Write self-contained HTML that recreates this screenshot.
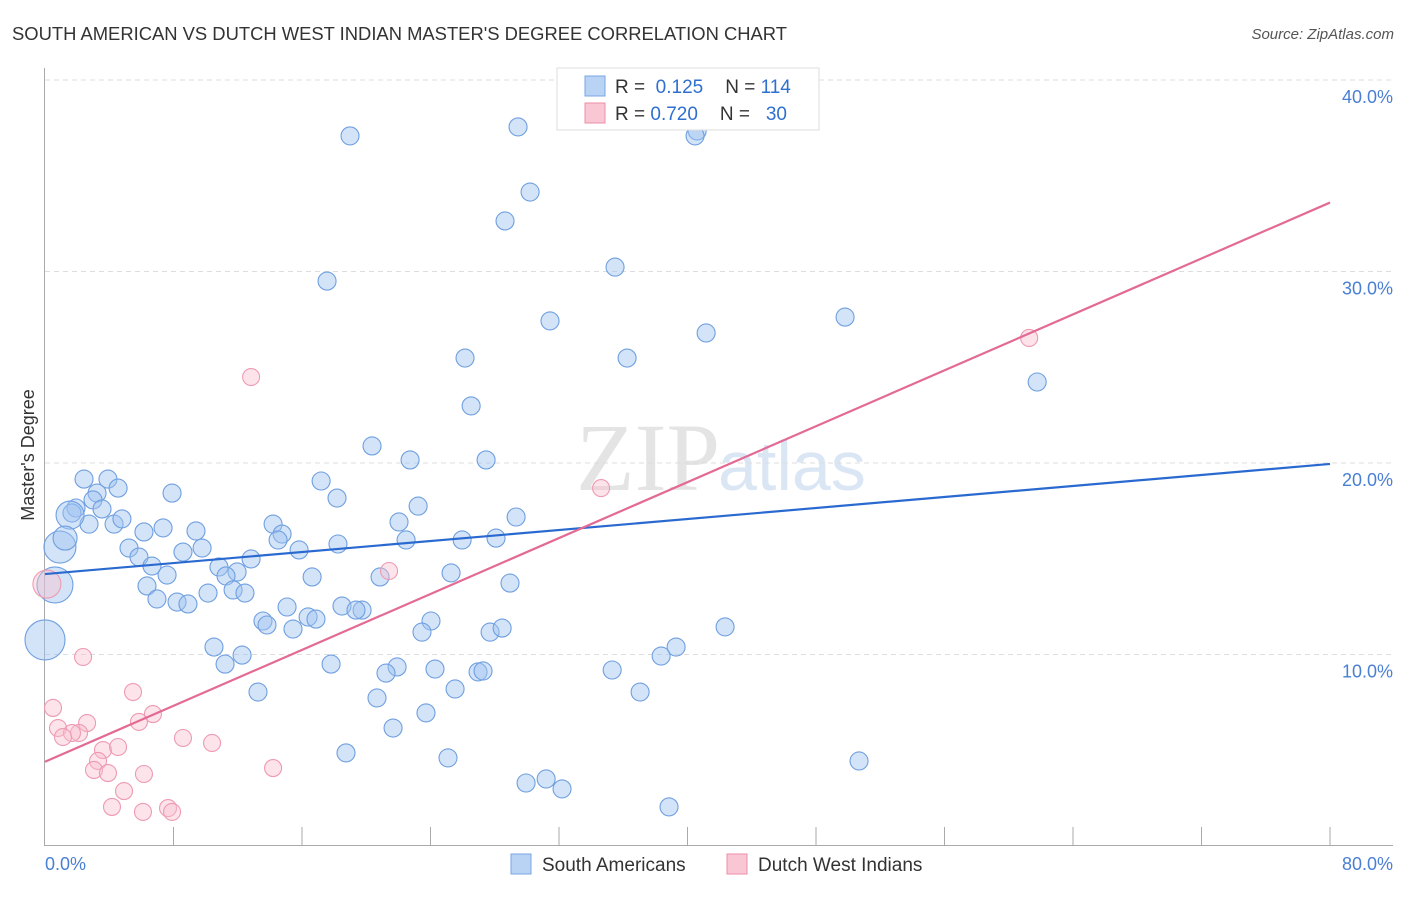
<!DOCTYPE html>
<html><head><meta charset="utf-8"><style>
body{margin:0;background:#fff;font-family:"Liberation Sans",sans-serif;}
</style></head><body>
<svg id="c" width="1406" height="892" xmlns="http://www.w3.org/2000/svg" style="font-family:'Liberation Sans',sans-serif">
<text x="12" y="40" font-size="18.4" fill="#333">SOUTH AMERICAN VS DUTCH WEST INDIAN MASTER'S DEGREE CORRELATION CHART</text>
<text x="1394" y="39" font-size="15" fill="#555" text-anchor="end" font-style="italic">Source: ZipAtlas.com</text>
<text x="720" y="490" font-size="96" fill="#e4e4e4" text-anchor="end" font-family="Liberation Serif">ZIP</text>
<text x="718" y="490" font-size="70" fill="#dbe6f5">atlas</text>
<g id="grid"></g><g id="pts"></g><g id="lines"></g>
<text transform="translate(34,455) rotate(-90)" font-size="18" fill="#333" text-anchor="middle">Master's Degree</text>
<text x="45" y="870" font-size="18" fill="#4a7fd4">0.0%</text>
<text x="1393" y="870" font-size="18" fill="#4a7fd4" text-anchor="end">80.0%</text>
<g>
<rect x="557" y="68" width="262" height="62" fill="#fff" stroke="#ddd"/>
<rect x="585" y="76" width="20" height="20" fill="#b9d3f5" stroke="#7aa6e4"/>
<rect x="585" y="103" width="20" height="20" fill="#f9c6d3" stroke="#ec8eaa"/>
<text x="615" y="93" font-size="19" fill="#333">R = <tspan fill="#2f6fd0">&#160;0.125</tspan><tspan dx="22" fill="#333">N = </tspan><tspan fill="#2f6fd0"> 114</tspan></text>
<text x="615" y="120" font-size="19" fill="#333">R = <tspan fill="#2f6fd0">0.720</tspan><tspan dx="22" fill="#333">N = </tspan><tspan fill="#2f6fd0">&#160; 30</tspan></text>
</g>
<g>
<rect x="511" y="854" width="20" height="20" fill="#b9d3f5" stroke="#7aa6e4"/>
<text x="542" y="871" font-size="19" fill="#333">South Americans</text>
<rect x="727" y="854" width="20" height="20" fill="#f9c6d3" stroke="#ec8eaa"/>
<text x="758" y="871" font-size="19" fill="#333">Dutch West Indians</text>
</g>
</svg>
<script>
const yTicks=[10,20,30,40];
const yTickLabels=["10.0%","20.0%","30.0%","40.0%"];
const blueX=[18.99,29.45,40.6,40.47,30.2,28.64,35.49,17.56,31.44,49.81,41.16,26.15,36.24,61.77,26.53,20.36,22.73,27.46,2.43,3.92,17.19,4.55,3.24,7.91,2.99,18.18,1.93,3.55,23.23,1.68,29.33,2.74,4.3,4.79,14.2,22.04,7.35,9.4,14.76,6.16,22.48,14.51,25.97,28.08,18.24,5.23,9.78,15.82,8.59,5.85,12.83,6.66,10.83,11.96,11.27,7.6,25.28,16.63,20.86,28.95,6.35,11.71,10.15,12.45,6.97,8.22,8.9,15.07,18.49,19.74,19.36,16.38,16.87,13.57,13.82,24.03,15.44,23.47,27.71,28.46,42.34,10.52,39.29,12.27,38.36,11.21,17.81,21.92,21.23,24.28,26.96,27.27,35.31,13.26,37.05,25.53,20.67,23.72,21.67,18.74,25.09,50.68,31.2,29.95,32.19,38.85,0.62,0,0.93,1.56,1.25];
const blueY=[37.08,37.55,37.34,37.08,34.15,32.64,30.23,29.5,27.42,27.62,26.79,25.48,25.48,24.23,22.98,20.89,20.16,20.16,19.16,19.16,19.06,18.69,18.43,18.43,18.07,18.17,17.65,17.6,17.75,17.39,17.18,16.81,16.81,17.08,16.81,16.92,16.61,16.45,16.29,16.4,15.98,15.98,15.98,16.08,15.77,15.56,15.56,15.46,15.35,15.09,14.99,14.62,14.57,14.31,14.1,14.15,14.26,14.05,14.05,13.73,13.58,13.37,13.21,13.21,12.9,12.74,12.64,12.48,12.53,12.32,12.32,11.96,11.85,11.75,11.54,11.75,11.33,11.17,11.17,11.38,11.44,10.39,10.39,9.97,9.92,9.5,9.5,9.35,9.03,9.24,9.09,9.14,9.19,8.04,8.04,8.2,7.73,6.95,6.16,4.86,4.6,4.44,3.5,3.29,2.98,2.04,13.63,10.76,15.61,17.28,16.08];
const blueR=[];for(let i=0;i<blueX.length;i++)blueR.push(9);blueR[blueX.length-5]=18;blueR[blueX.length-4]=20;blueR[blueX.length-3]=16;blueR[blueX.length-2]=14;blueR[blueX.length-1]=12;
const pinkX=[12.83,61.27,34.62,21.42,0.12,2.37,0.5,5.48,6.72,5.85,2.62,0.81,2.12,1.68,1.12,8.59,10.4,3.61,4.55,3.3,3.05,3.92,14.2,6.16,4.92,4.17,6.1,7.66,7.91];
const pinkY=[24.49,26.53,18.69,14.36,13.68,9.87,7.21,8.04,6.89,6.48,6.42,6.16,5.9,5.9,5.69,5.64,5.38,5.01,5.17,4.44,3.97,3.81,4.07,3.76,2.87,2.04,1.78,1.98,1.78];
const blueLine=[14.2,19.95];
const pinkLine=[4.4,33.6];
const NS="http://www.w3.org/2000/svg";
const sx=v=>45+v/80*1285, sy=v=>846-v*19.15;
function mk(t,a,p){const e=document.createElementNS(NS,t);for(const k in a)e.setAttribute(k,a[k]);p.appendChild(e);return e;}
const grid=document.getElementById('grid');
yTicks.forEach((t,i)=>{
 const l=mk('line',{x1:45,x2:1393,y1:sy(t),y2:sy(t),stroke:'#ddd','stroke-dasharray':'5,4'},grid);
 
 
 const tx=mk('text',{x:1393,y:sy(t)+23,'font-size':18,fill:'#4a7fd4','text-anchor':'end'},grid);
 tx.textContent=yTickLabels[i];
 
 
});
const ax=mk('path',{d:'M44.5 68 V845.5 H1393',stroke:'#aaa',fill:'none'},grid);


for(let i=1;i<=10;i++){const t=mk('line',{x1:sx(i*8),x2:sx(i*8),y1:827,y2:845,stroke:'#aaa'},grid);
 
 }
const pts=document.getElementById('pts');
blueX.forEach((x,i)=>{const c=mk('circle',{cx:sx(x),cy:sy(blueY[i]),r:blueR[i],fill:'rgba(160,196,240,0.45)',stroke:'#6f9fe0','stroke-width':1.1},pts);
 
 });
pinkX.forEach((x,i)=>{const c=mk('circle',{cx:sx(x),cy:sy(pinkY[i]),r:i==4?14:8.5,fill:'rgba(248,190,205,0.42)',stroke:'#ee9ab2','stroke-width':1.1},pts);
 
 });
const lg=document.getElementById('lines');
const b=mk('line',{x1:sx(0),y1:sy(blueLine[0]),x2:sx(80),y2:sy(blueLine[1]),stroke:'#2a6ad0','stroke-width':2.2},lg);


const p=mk('line',{x1:sx(0),y1:sy(pinkLine[0]),x2:sx(80),y2:sy(pinkLine[1]),stroke:'#e36a94','stroke-width':2.2},lg);


</script>
</body></html>
